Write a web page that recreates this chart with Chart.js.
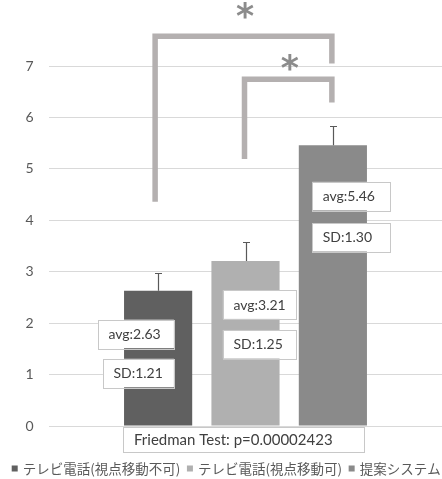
<!DOCTYPE html>
<html><head><meta charset="utf-8">
<script src="https://cdn.jsdelivr.net/npm/chart.js@4/dist/chart.umd.min.js"></script>
<style>html,body{margin:0;padding:0;background:#fff;overflow:hidden}
#wrap{width:442px;height:479px;position:relative}</style></head>
<body><div id="wrap"><canvas id="c"></canvas></div>
<script>
// ---- data ----
const categories = [''];
const seriesNames = ['テレビ電話(視点移動不可)', 'テレビ電話(視点移動可)', '提案システム'];
const averages = [2.63, 3.21, 5.46];
const sds = [1.21, 1.25, 1.30];
const errorBars = [0.35, 0.36, 0.38];
const yTicks = [0, 1, 2, 3, 4, 5, 6, 7];
const testLabel = 'Friedman Test: p=0.00002423';
const sigMark = '*';

// ---- styles / layout ----
const seriesColors = ['#606060', '#b0b0b0', '#8a8a8a'];
const LATIN = 'Lato, "Liberation Sans", sans-serif';
const CJK = '"Noto Sans CJK JP", sans-serif';
const STAR = 'bold {s}px "DejaVu Sans", sans-serif';
const boxLayout = [ // per bar: avg box & sd box (left offset from bar centre px, width px, centre y in value units)
  {avg:{dx:-60.2, w:76, v:1.79}, sd:{dx:-55.2, w:71, v:1.03}},
  {avg:{dx:-22.6, w:73.3, v:2.36}, sd:{dx:-22.6, w:73.3, v:1.59}},
  {avg:{dx:-20.7, w:78, v:4.47}, sd:{dx:-20.7, w:78, v:3.67}}
];
const brackets = [
  {from:0, to:2, dxFrom:-3, dxTo:-1, top:7.577, leftEnd:4.36, rightEnd:7.05},
  {from:1, to:2, dxFrom:-1, dxTo:-1, top:6.74, leftEnd:5.19, rightEnd:6.29}
];

const overlay = {
  id: 'overlay',
  afterDatasetsDraw(chart) {
    const ctx = chart.ctx, ys = chart.scales.y;
    chart.data.datasets.forEach((ds, i) => {
      const bar = chart.getDatasetMeta(i).data[0];
      const x = Math.round(bar.x) + 0.5;
      const top = Math.round(ys.getPixelForValue(averages[i] + errorBars[i])) + 0.5;
      const base = ys.getPixelForValue(averages[i]);
      ctx.save();
      ctx.strokeStyle = '#595959'; ctx.lineWidth = 1.2;
      ctx.beginPath();
      ctx.moveTo(x, base); ctx.lineTo(x, top);
      ctx.moveTo(x - 3.5, top); ctx.lineTo(x + 3.5, top);
      ctx.stroke();
      ctx.restore();
    });
  },
  afterDraw(chart) {
    const ctx = chart.ctx, ys = chart.scales.y;
    const cx = i => chart.getDatasetMeta(i).data[0].x;
    ctx.save();
    // value boxes
    const drawBox = (left, w, vc, text) => {
      const h = 28.5;
      const yc = ys.getPixelForValue(vc);
      const top = yc - h / 2;
      ctx.fillStyle = '#ffffff';
      ctx.fillRect(left, top, w, h);
      ctx.strokeStyle = '#c8c8c8'; ctx.lineWidth = 1;
      ctx.strokeRect(Math.round(left) + 0.5, Math.round(top) + 0.5, Math.round(w), Math.round(h));
      ctx.fillStyle = '#404040';
      ctx.font = '14px ' + LATIN;
      ctx.textAlign = 'left'; ctx.textBaseline = 'middle';
      ctx.fillText(text, left + 10.5, yc + 0.5);
    };
    averages.forEach((a, i) => {
      const b = boxLayout[i], c = cx(i);
      drawBox(c + b.avg.dx, b.avg.w, b.avg.v, 'avg:' + a.toFixed(2));
      drawBox(c + b.sd.dx, b.sd.w, b.sd.v, 'SD:' + sds[i].toFixed(2));
    });
    // significance brackets
    ctx.strokeStyle = '#b4b0b0'; ctx.lineWidth = 5.5;
    ctx.lineJoin = 'miter'; ctx.lineCap = 'butt';
    brackets.forEach(br => {
      const x1 = cx(br.from) + br.dxFrom, x2 = cx(br.to) + br.dxTo;
      const yt = ys.getPixelForValue(br.top);
      ctx.beginPath();
      ctx.moveTo(x1, ys.getPixelForValue(br.leftEnd));
      ctx.lineTo(x1, yt); ctx.lineTo(x2, yt);
      ctx.lineTo(x2, ys.getPixelForValue(br.rightEnd));
      ctx.stroke();
      // asterisk
      ctx.font = STAR.replace('{s}', 100);
      let m = ctx.measureText(sigMark);
      const wRef = m.actualBoundingBoxLeft + m.actualBoundingBoxRight;
      const size = 100 * 17 / wRef;
      ctx.font = STAR.replace('{s}', size.toFixed(2));
      m = ctx.measureText(sigMark);
      ctx.fillStyle = '#8c8c8c';
      ctx.textAlign = 'left'; ctx.textBaseline = 'alphabetic';
      const mx = (x1 + x2) / 2 + 1.5, my = yt - 17;
      ctx.fillText(sigMark, mx - (m.actualBoundingBoxRight - m.actualBoundingBoxLeft) / 2,
        my + (m.actualBoundingBoxAscent - m.actualBoundingBoxDescent) / 2);
    });
    // Friedman box
    {
      const left = 123.5, top = 427.5, w = 241, h = 25;
      ctx.fillStyle = '#fff'; ctx.fillRect(left, top, w, h);
      ctx.strokeStyle = '#c8c8c8'; ctx.lineWidth = 1; ctx.strokeRect(left, top, w, h);
      ctx.fillStyle = '#404040'; ctx.font = '15px ' + LATIN;
      ctx.textAlign = 'left'; ctx.textBaseline = 'middle';
      ctx.fillText(testLabel, left + 10.5, top + h / 2 + 0.5);
    }
    // legend
    {
      let x = 11.7; const y = 468.5;
      ctx.font = '13.5px ' + CJK; ctx.textBaseline = 'middle'; ctx.textAlign = 'left';
      chart.data.datasets.forEach(ds => {
        ctx.fillStyle = ds.backgroundColor;
        ctx.fillRect(x, y - 3, 6, 6);
        x += 11;
        ctx.fillStyle = '#595959';
        ctx.fillText(ds.label, x, y);
        x += ctx.measureText(ds.label).width + 6.6;
      });
    }
    ctx.restore();
  }
};

new Chart(document.getElementById('c'), {
  type: 'bar',
  data: {
    labels: categories,
    datasets: seriesNames.map((n, i) => ({
      label: n, data: [averages[i]], backgroundColor: seriesColors[i],
      categoryPercentage: 0.667, barPercentage: 0.78
    }))
  },
  options: {
    responsive: true, maintainAspectRatio: false, animation: false,
    layout: {padding: {top: 66, bottom: 53, left: 0, right: 0}},
    plugins: {legend: {display: false}, tooltip: {enabled: false}},
    scales: {
      x: {display: false},
      y: {
        min: 0, max: 7,
        afterBuildTicks: s => { s.ticks = yTicks.map(v => ({value: v})); },
        afterFit: s => { s.width = 49; },
        border: {display: false},
        grid: {color: '#d9d9d9', drawTicks: false, lineWidth: 1},
        ticks: {color: '#595959', padding: 15.5, font: {family: 'Lato', size: 14}}
      }
    }
  },
  plugins: [overlay]
});
</script></body></html>
